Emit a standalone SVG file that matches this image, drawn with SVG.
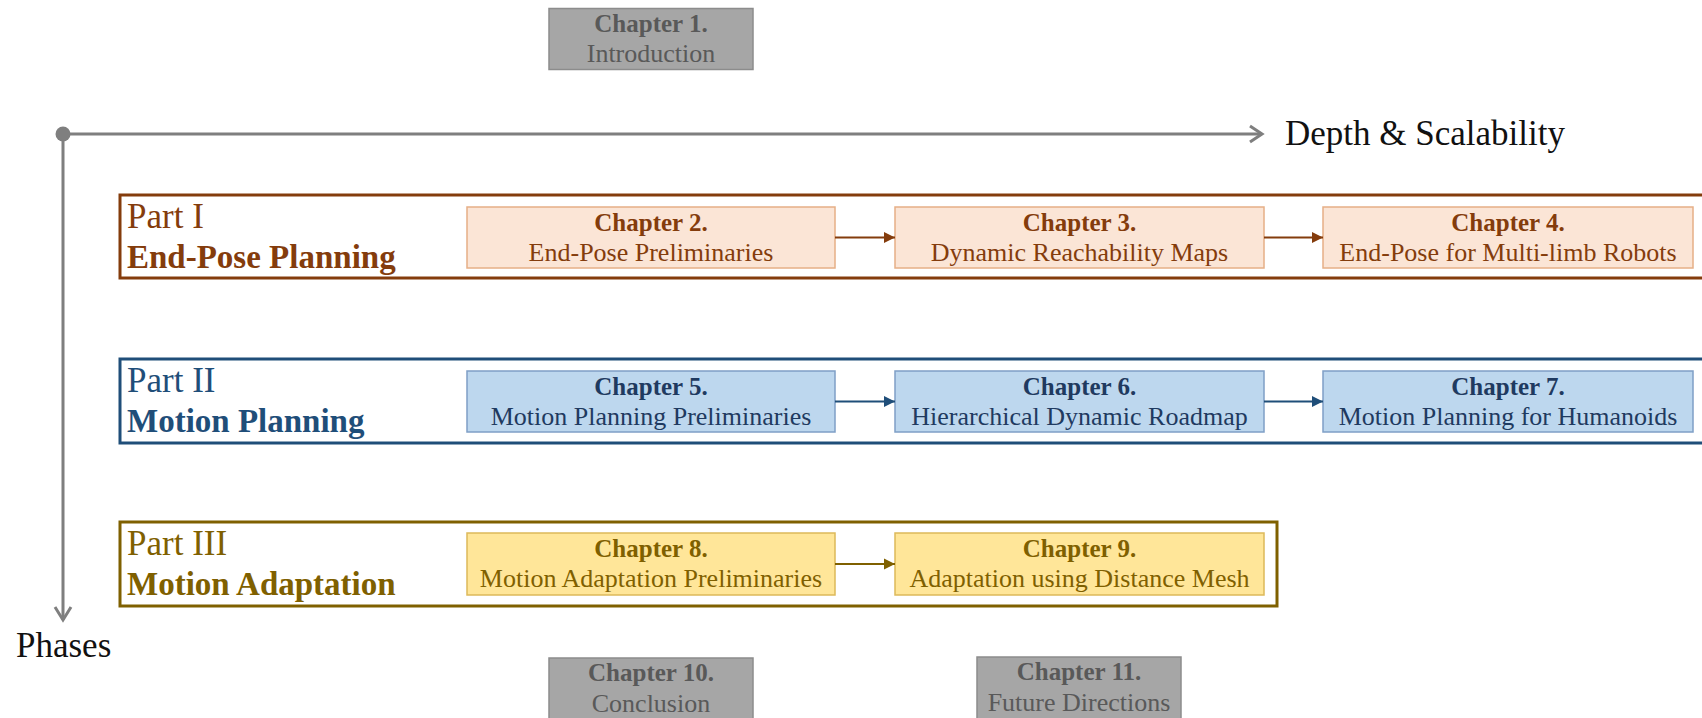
<svg xmlns="http://www.w3.org/2000/svg" width="1702" height="718" viewBox="0 0 1702 718">
<defs>
<style>
text{font-family:"Liberation Serif","Times New Roman",serif;}
.ct{font-size:25px;font-weight:bold;text-anchor:middle;}
.cs{font-size:26px;text-anchor:middle;}
.pt{font-size:35px;}
.pb{font-size:33px;font-weight:bold;}
.axis{stroke:#7F7F7F;stroke-width:3;fill:none;}
.gray rect{fill:#A6A6A6;stroke:#8C8C8C;stroke-width:1.5;}
.gray text{fill:#595959;}
.p1 rect{fill:#FBE5D6;stroke:#E6AF86;stroke-width:1.5;}
.p1 text{fill:#843C0C;}
.p2 rect{fill:#BDD7EE;stroke:#7F9FC6;stroke-width:1.5;}
.p2 text{fill:#1F3A60;}
.p3 rect{fill:#FFE699;stroke:#DDB95A;stroke-width:1.5;}
.p3 text{fill:#7F6000;}
</style>
<marker id="a1" markerWidth="12" markerHeight="12" refX="11" refY="6" orient="auto" markerUnits="userSpaceOnUse"><path d="M0,0.5 L11,6 L0,11.5 Z" fill="#843C0C"/></marker>
<marker id="a2" markerWidth="12" markerHeight="12" refX="11" refY="6" orient="auto" markerUnits="userSpaceOnUse"><path d="M0,0.5 L11,6 L0,11.5 Z" fill="#1F4E79"/></marker>
<marker id="a3" markerWidth="12" markerHeight="12" refX="11" refY="6" orient="auto" markerUnits="userSpaceOnUse"><path d="M0,0.5 L11,6 L0,11.5 Z" fill="#7F6000"/></marker>
</defs>
<rect width="1702" height="718" fill="#FFFFFF"/>

<g id="axes">
<line class="axis" x1="63" y1="134" x2="1262" y2="134"/>
<polyline class="axis" points="1250,126 1262,134 1250,142"/>
<line class="axis" x1="63" y1="134" x2="63" y2="620"/>
<polyline class="axis" points="55,607 63,620 71,607"/>
<circle cx="63" cy="134" r="7.5" fill="#7F7F7F"/>
<text x="1285" y="145" font-size="35" fill="#111">Depth &amp; Scalability</text>
<text x="16" y="657" font-size="35" fill="#111">Phases</text>
</g>

<g id="part1" class="p1">
<rect x="120" y="195" width="1600" height="83" style="fill:none;stroke:#843C0C;stroke-width:3"/>
<text class="pt" x="127" y="228">Part I</text>
<text class="pb" x="127" y="268">End-Pose Planning</text>
</g>
<g id="part2" class="p2">
<rect x="120" y="359" width="1600" height="84" style="fill:none;stroke:#1F4E79;stroke-width:3"/>
<text class="pt" x="127" y="392" style="fill:#1F4E79">Part II</text>
<text class="pb" x="127" y="432" style="fill:#1F4E79">Motion Planning</text>
</g>
<g id="part3" class="p3">
<rect x="120" y="522" width="1157" height="84" style="fill:none;stroke:#7F6000;stroke-width:3"/>
<text class="pt" x="127" y="555">Part III</text>
<text class="pb" x="127" y="595">Motion Adaptation</text>
</g>

<g id="ch1" class="gray"><rect x="549" y="8.5" width="204" height="61"/><text class="ct" x="651" y="32">Chapter 1.</text><text class="cs" x="651" y="62">Introduction</text></g>

<g id="ch2" class="p1"><rect x="467" y="207" width="368" height="61"/><text class="ct" x="651" y="231">Chapter 2.</text><text class="cs" x="651" y="261">End-Pose Preliminaries</text></g>
<g id="ch3" class="p1"><rect x="895" y="207" width="369" height="61"/><text class="ct" x="1079.5" y="231">Chapter 3.</text><text class="cs" x="1079.5" y="261">Dynamic Reachability Maps</text></g>
<g id="ch4" class="p1"><rect x="1323" y="207" width="370" height="61"/><text class="ct" x="1508" y="231">Chapter 4.</text><text class="cs" x="1508" y="261">End-Pose for Multi-limb Robots</text></g>

<g id="ch5" class="p2"><rect x="467" y="371" width="368" height="61"/><text class="ct" x="651" y="395">Chapter 5.</text><text class="cs" x="651" y="425">Motion Planning Preliminaries</text></g>
<g id="ch6" class="p2"><rect x="895" y="371" width="369" height="61"/><text class="ct" x="1079.5" y="395">Chapter 6.</text><text class="cs" x="1079.5" y="425">Hierarchical Dynamic Roadmap</text></g>
<g id="ch7" class="p2"><rect x="1323" y="371" width="370" height="61"/><text class="ct" x="1508" y="395">Chapter 7.</text><text class="cs" x="1508" y="425">Motion Planning for Humanoids</text></g>

<g id="ch8" class="p3"><rect x="467" y="533" width="368" height="62"/><text class="ct" x="651" y="557">Chapter 8.</text><text class="cs" x="651" y="587">Motion Adaptation Preliminaries</text></g>
<g id="ch9" class="p3"><rect x="895" y="533" width="369" height="62"/><text class="ct" x="1079.5" y="557">Chapter 9.</text><text class="cs" x="1079.5" y="587">Adaptation using Distance Mesh</text></g>

<g id="ch10" class="gray"><rect x="549" y="658" width="204" height="70"/><text class="ct" x="651" y="681">Chapter 10.</text><text class="cs" x="651" y="712">Conclusion</text></g>
<g id="ch11" class="gray"><rect x="977" y="657" width="204" height="70"/><text class="ct" x="1079" y="680">Chapter 11.</text><text class="cs" x="1079" y="711">Future Directions</text></g>

<g id="connectors" fill="none" stroke-width="2">
<line x1="835" y1="237.5" x2="895" y2="237.5" stroke="#843C0C" marker-end="url(#a1)"/>
<line x1="1264" y1="237.5" x2="1323" y2="237.5" stroke="#843C0C" marker-end="url(#a1)"/>
<line x1="835" y1="401.5" x2="895" y2="401.5" stroke="#1F4E79" marker-end="url(#a2)"/>
<line x1="1264" y1="401.5" x2="1323" y2="401.5" stroke="#1F4E79" marker-end="url(#a2)"/>
<line x1="835" y1="564" x2="895" y2="564" stroke="#7F6000" marker-end="url(#a3)"/>
</g>
</svg>
